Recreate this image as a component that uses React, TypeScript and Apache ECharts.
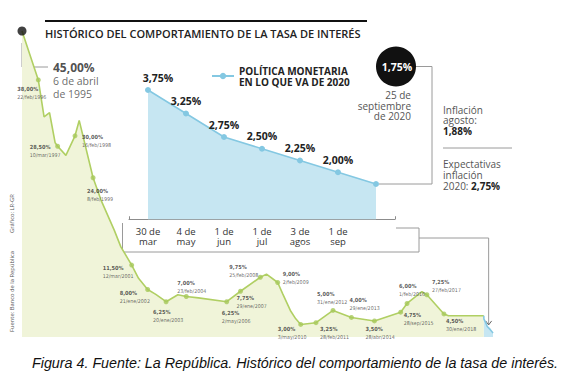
import { useEffect, useRef } from 'react';
import * as echarts from 'echarts';

// ---------- data ----------
const keyDates = ['1995-04-06', '1996-02-22', '1997-03-10', '1998-02-16', '1999-02-08', '2001-03-12', '2002-01-21', '2003-01-20', '2004-02-23', '2006-05-02', '2007-01-29', '2008-02-25', '2009-02-02', '2010-05-03', '2011-02-28', '2012-01-31', '2013-01-29', '2014-04-28', '2015-09-28', '2016-02-01', '2017-02-27', '2018-01-30'];
const keyRates = [45, 38, 28.5, 30, 24, 11.5, 8, 6.25, 7, 6.25, 7.75, 9.75, 9, 3, 3.25, 5, 4, 3.5, 4.75, 6, 7.25, 4.5];
const keyDateLabels = ['6 de abril\nde 1995', '22/feb/1996', '10/mar/1997', '16/feb/1998', '8/feb/1999', '12/mar/2001', '21/ene/2002', '20/ene/2003', '23/feb/2004', '2/may/2006', '29/ene/2007', '25/feb/2008', '2/feb/2009', '3/may/2010', '28/feb/2011', '31/ene/2012', '29/ene/2013', '28/abr/2014', '28/sep/2015', '1/feb/2016', '27/feb/2017', '30/ene/2018'];
// unlabeled bends of the drawn line
const bendDates = ['1996-06-15', '1996-10-01', '1997-01-20', '1997-08-20', '1998-05-10', '1999-07-15', '2000-04-01', '2000-08-10', '2001-07-25', '2002-07-01', '2003-09-10', '2004-10-20', '2008-06-25', '2009-05-10', '2009-10-10', '2010-01-25', '2016-11-20', '2018-04-30'];
const bendRates = [32.7, 33.3, 29.0, 27.2, 32.2, 20.8, 16.5, 14.1, 9.6, 7.3, 7.25, 6.8, 10.2, 7.4, 5.0, 3.8, 7.7, 4.25];
const preCutDate = '2020-03-27';
const preCutRate = 4.25;

const policyCategories = ['30 de\nmar', '4 de\nmay', '1 de\njun', '1 de\njul', '3 de\nagos', '1 de\nsep', ''];
const policyDates = ['2020-03-30', '2020-05-04', '2020-06-01', '2020-07-01', '2020-08-03', '2020-09-01', '2020-09-25'];
const policyRates = [3.75, 3.25, 2.75, 2.5, 2.25, 2.0, 1.75];
const lastDateText = '25 de\nseptiembre\nde 2020';
const inflationAugust = 1.88;
const inflationExpected = 2.75;

const TITLE = 'HISTÓRICO DEL COMPORTAMIENTO DE LA TASA DE INTERÉS';
const LEGEND_NAME = 'POLÍTICA MONETARIA\nEN LO QUE VA DE 2020';
const CAPTION = 'Figura 4. Fuente: La República. Histórico del comportamiento de la tasa de interés.';
const SOURCE = 'Fuente: Banco de la República';
const CREDIT = 'Gráfico: LR-GR';

// ---------- layout (label offsets from each dot: label top-left) ----------
const labelOffsets = [[-21, 5], [-28, -3], [7, -3], [-6, 9], [-29, -1], [-28, 0], [-13, 6], [-9, -17], [-5, 7], [-4, 3], [-31, -14], [5, -13], [-23, 1], [4, 2], [-16, -20], [-2, -21], [-9, 4], [3, -1], [-8, -21], [5, -17], [2, 3]];

const FONT = '"Open Sans", "Noto Sans", sans-serif';
const NARROW = '"Liberation Sans Narrow", "DejaVu Sans Condensed", Roboto, sans-serif';
const GREEN_LINE = '#b0cf63';
const GREEN_FILL = '#f0f4d9';
const BLUE_LINE = '#84c8e2';
const BLUE_FILL = '#c6e6f2';

const ts = (d: string) => new Date(d + 'T00:00:00Z').getTime();
const fmt = (v: number) => v.toFixed(2).replace('.', ',') + '%';

export default function App() {
  const ref = useRef<HTMLDivElement>(null);

  useEffect(() => {
    if (!ref.current) return;
    const chart = echarts.init(ref.current, null, { renderer: 'svg' });

    const mainPath = [
      ...keyDates.map((d, i) => [ts(d), keyRates[i]]),
      ...bendDates.map((d, i) => [ts(d), bendRates[i]]),
      [ts(preCutDate), preCutRate],
    ].sort((a, b) => a[0] - b[0]);

    const bluePath = [[ts(preCutDate), preCutRate], ...policyDates.map((d, i) => [ts(d), policyRates[i]])];

    const option: any = {
      animation: false,
      backgroundColor: '#ffffff',
      grid: [
        { left: 22, right: 77, top: 31, bottom: 42 },
        { left: 129, right: 175, top: 78.25, bottom: 159.75 },
      ],
      xAxis: [
        { type: 'time', gridIndex: 0, min: ts(keyDates[0]), max: ts(policyDates[policyDates.length - 1]), show: false },
        {
          type: 'category', gridIndex: 1, data: policyCategories, boundaryGap: true,
          axisLine: { show: true, lineStyle: { color: '#8c8c8c', width: 1 } },
          axisTick: { show: true, inside: true, length: 3, interval: 0, lineStyle: { color: '#8c8c8c' } },
          axisLabel: { interval: 0, fontSize: 9.5, color: '#333', lineHeight: 10, margin: 7, fontFamily: FONT },
          splitLine: { show: false },
        },
      ],
      yAxis: [
        { type: 'value', gridIndex: 0, min: 1.2, max: 45, show: false },
        { type: 'value', gridIndex: 1, min: 1, max: 4, show: false },
      ],
      legend: {
        data: [LEGEND_NAME], left: 211, top: 59.5, padding: 0, itemWidth: 22, itemHeight: 8,
        selectedMode: false,
        textStyle: { fontSize: 10, fontWeight: 'bold', color: '#222', lineHeight: 11, fontFamily: FONT, padding: [11, 0, 0, 0] },
      },
      series: [
        {
          type: 'line', xAxisIndex: 0, yAxisIndex: 0, data: mainPath, symbol: 'none', showSymbol: false,
          lineStyle: { color: GREEN_LINE, width: 1.6 }, areaStyle: { color: GREEN_FILL, opacity: 1 }, z: 2, clip: false,
        },
        {
          type: 'line', xAxisIndex: 0, yAxisIndex: 0, data: bluePath, symbol: 'none', showSymbol: false,
          lineStyle: { color: BLUE_LINE, width: 1.6 }, areaStyle: { color: BLUE_FILL, opacity: 1 }, z: 2, clip: false,
        },
        {
          type: 'scatter', xAxisIndex: 0, yAxisIndex: 0, symbolSize: 5, z: 4, clip: false,
          itemStyle: { color: '#a6c85a' },
          data: keyDates.slice(1).map((d, i) => ({
            value: [ts(d), keyRates[i + 1]],
            label: { show: true, position: 'inside', align: 'left', verticalAlign: 'top', offset: labelOffsets[i] },
          })),
          label: {
            formatter: (p: any) => `{v|${fmt(keyRates[p.dataIndex + 1])}}\n{d|${keyDateLabels[p.dataIndex + 1]}}`,
            rich: {
              v: { fontSize: 5.6, fontWeight: 'bold', color: '#333', lineHeight: 8, fontFamily: NARROW },
              d: { fontSize: 5.3, color: '#444', lineHeight: 8, fontFamily: NARROW },
            },
          },
        },
        {
          type: 'scatter', xAxisIndex: 0, yAxisIndex: 0, symbolSize: 9, z: 5, clip: false,
          itemStyle: { color: '#111' },
          data: [{
            value: [ts(keyDates[0]), keyRates[0]],
            label: { show: true, position: 'inside', align: 'left', verticalAlign: 'top', offset: [31, 28] },
          }],
          label: {
            formatter: () => `{v|${fmt(keyRates[0])}}\n` + keyDateLabels[0].split('\n').map((s) => `{d|${s}}`).join('\n'),
            rich: {
              v: { fontSize: 12, fontWeight: 'bold', color: '#222', lineHeight: 16, fontFamily: FONT },
              d: { fontSize: 10.5, color: '#444', lineHeight: 12.5, fontFamily: FONT },
            },
          },
        },
        {
          name: LEGEND_NAME, type: 'line', xAxisIndex: 1, yAxisIndex: 1, data: policyRates.map((v, i) => ({
            value: v,
            label: i === policyRates.length - 1 ? { show: false } : i === 0 ? { show: true, offset: [10, 0] } : { show: true },
          })),
          symbol: 'circle', symbolSize: 6, z: 3,
          itemStyle: { color: BLUE_LINE }, lineStyle: { color: BLUE_LINE, width: 1.5 },
          areaStyle: { color: BLUE_FILL, opacity: 1 },
          label: { show: true, position: 'top', distance: 4, fontSize: 10.5, fontWeight: 'bold', color: '#222', fontFamily: FONT, formatter: (p: any) => fmt(p.value) },
        },
      ],
    };
    chart.setOption(option);

    const dot = chart.convertToPixel({ gridIndex: 0 } as any, [ts(keyDates[0]), keyRates[0]]) as number[];
    const lastIdx = policyRates.length - 1;
    const last = chart.convertToPixel({ gridIndex: 1 } as any, [lastIdx, policyRates[lastIdx]]) as number[];
    const arrow = chart.convertToPixel({ gridIndex: 0 } as any, [ts(policyDates[3]), policyRates[3]]) as number[];

    const txt = (x: number, y: number, text: string, st: any, extra: any = {}) => ({
      type: 'text', x, y, silent: true, ...extra,
      style: { text, fontFamily: FONT, fill: '#444', ...st },
    });
    const grayLine = { stroke: '#9a9a9a', lineWidth: 1, fill: 'none' };

    chart.setOption({
      graphic: [
        { type: 'line', shape: { x1: 45, y1: 21, x2: 367, y2: 21 }, style: { stroke: '#111', lineWidth: 2 } },
        txt(45, 33, TITLE, { fontSize: 11, fontWeight: 600, fill: '#222', align: 'left', textAlign: 'left', verticalAlign: 'middle', textVerticalAlign: 'middle' }),
        { type: 'polyline', shape: { points: [[dot[0], dot[1] + 12], [dot[0], dot[1] + 36], [dot[0] + 26, dot[1] + 36]] }, style: grayLine },
        { type: 'circle', shape: { cx: 396, cy: 66.5, r: 20 }, style: { fill: '#111' } },
        txt(397, 66.5, fmt(policyRates[lastIdx]), { fontSize: 10.5, fontWeight: 'bold', fill: '#fff', align: 'center', textAlign: 'center', verticalAlign: 'middle', textVerticalAlign: 'middle' }),
        txt(411, 90, lastDateText, { fontSize: 10, lineHeight: 10.5, fill: '#555', align: 'right', textAlign: 'right', verticalAlign: 'top', textVerticalAlign: 'top' }),
        { type: 'polyline', shape: { points: [[416, 66.5], [432, 66.5], [432, last[1]], [last[0] + 3, last[1]]] }, style: grayLine },
        txt(443, 104.5, `{r|Inflación}\n{r|agosto:}\n{b|${fmt(inflationAugust)}}`, {
          align: 'left', textAlign: 'left', verticalAlign: 'top', textVerticalAlign: 'top',
          rich: {
            r: { fontSize: 10, lineHeight: 10.5, fill: '#555', color: '#555', fontFamily: FONT },
            b: { fontSize: 10, lineHeight: 10.5, fontWeight: 'bold', fill: '#222', color: '#222', fontFamily: FONT },
          },
        }),
        { type: 'line', shape: { x1: 443, y1: 148, x2: 512, y2: 148 }, style: { stroke: '#9a9a9a', lineWidth: 1 } },
        txt(443, 158.5, `{r|Expectativas}\n{r|inflación}\n{r|2020: }{b|${fmt(inflationExpected)}}`, {
          align: 'left', textAlign: 'left', verticalAlign: 'top', textVerticalAlign: 'top',
          rich: {
            r: { fontSize: 10, lineHeight: 11, fill: '#555', color: '#555', fontFamily: FONT },
            b: { fontSize: 10, lineHeight: 11, fontWeight: 'bold', fill: '#222', color: '#222', fontFamily: FONT },
          },
        }),
        { type: 'polyline', shape: { points: [[122.5, 223], [122.5, 252], [419, 252], [419, 228], [396, 228]] }, style: grayLine },
        { type: 'polyline', shape: { points: [[419, 238], [arrow[0], 238], [arrow[0], arrow[1] - 3]] }, style: grayLine },
        { type: 'polyline', shape: { points: [[arrow[0] - 3, arrow[1] - 7], [arrow[0], arrow[1] - 3], [arrow[0] + 3, arrow[1] - 7]] }, style: { stroke: '#666', lineWidth: 1, fill: 'none' } },
        txt(11.5, 332, SOURCE, { fontSize: 5.8, fill: '#555', align: 'left', textAlign: 'left', verticalAlign: 'middle', textVerticalAlign: 'middle' }, { rotation: Math.PI / 2 }),
        txt(11.5, 233, CREDIT, { fontSize: 5.8, fill: '#555', align: 'left', textAlign: 'left', verticalAlign: 'middle', textVerticalAlign: 'middle' }, { rotation: Math.PI / 2 }),
        txt(32, 363, CAPTION, { fontSize: 14.3, fontStyle: 'italic', fontFamily: '"Liberation Sans", Arial, sans-serif', fill: '#111', align: 'left', textAlign: 'left', verticalAlign: 'middle', textVerticalAlign: 'middle' }),
      ],
    });

    return () => chart.dispose();
  }, []);

  return <div ref={ref} style={{ position: 'absolute', left: 0, top: 0, width: 570, height: 379, background: '#fff' }} />;
}
